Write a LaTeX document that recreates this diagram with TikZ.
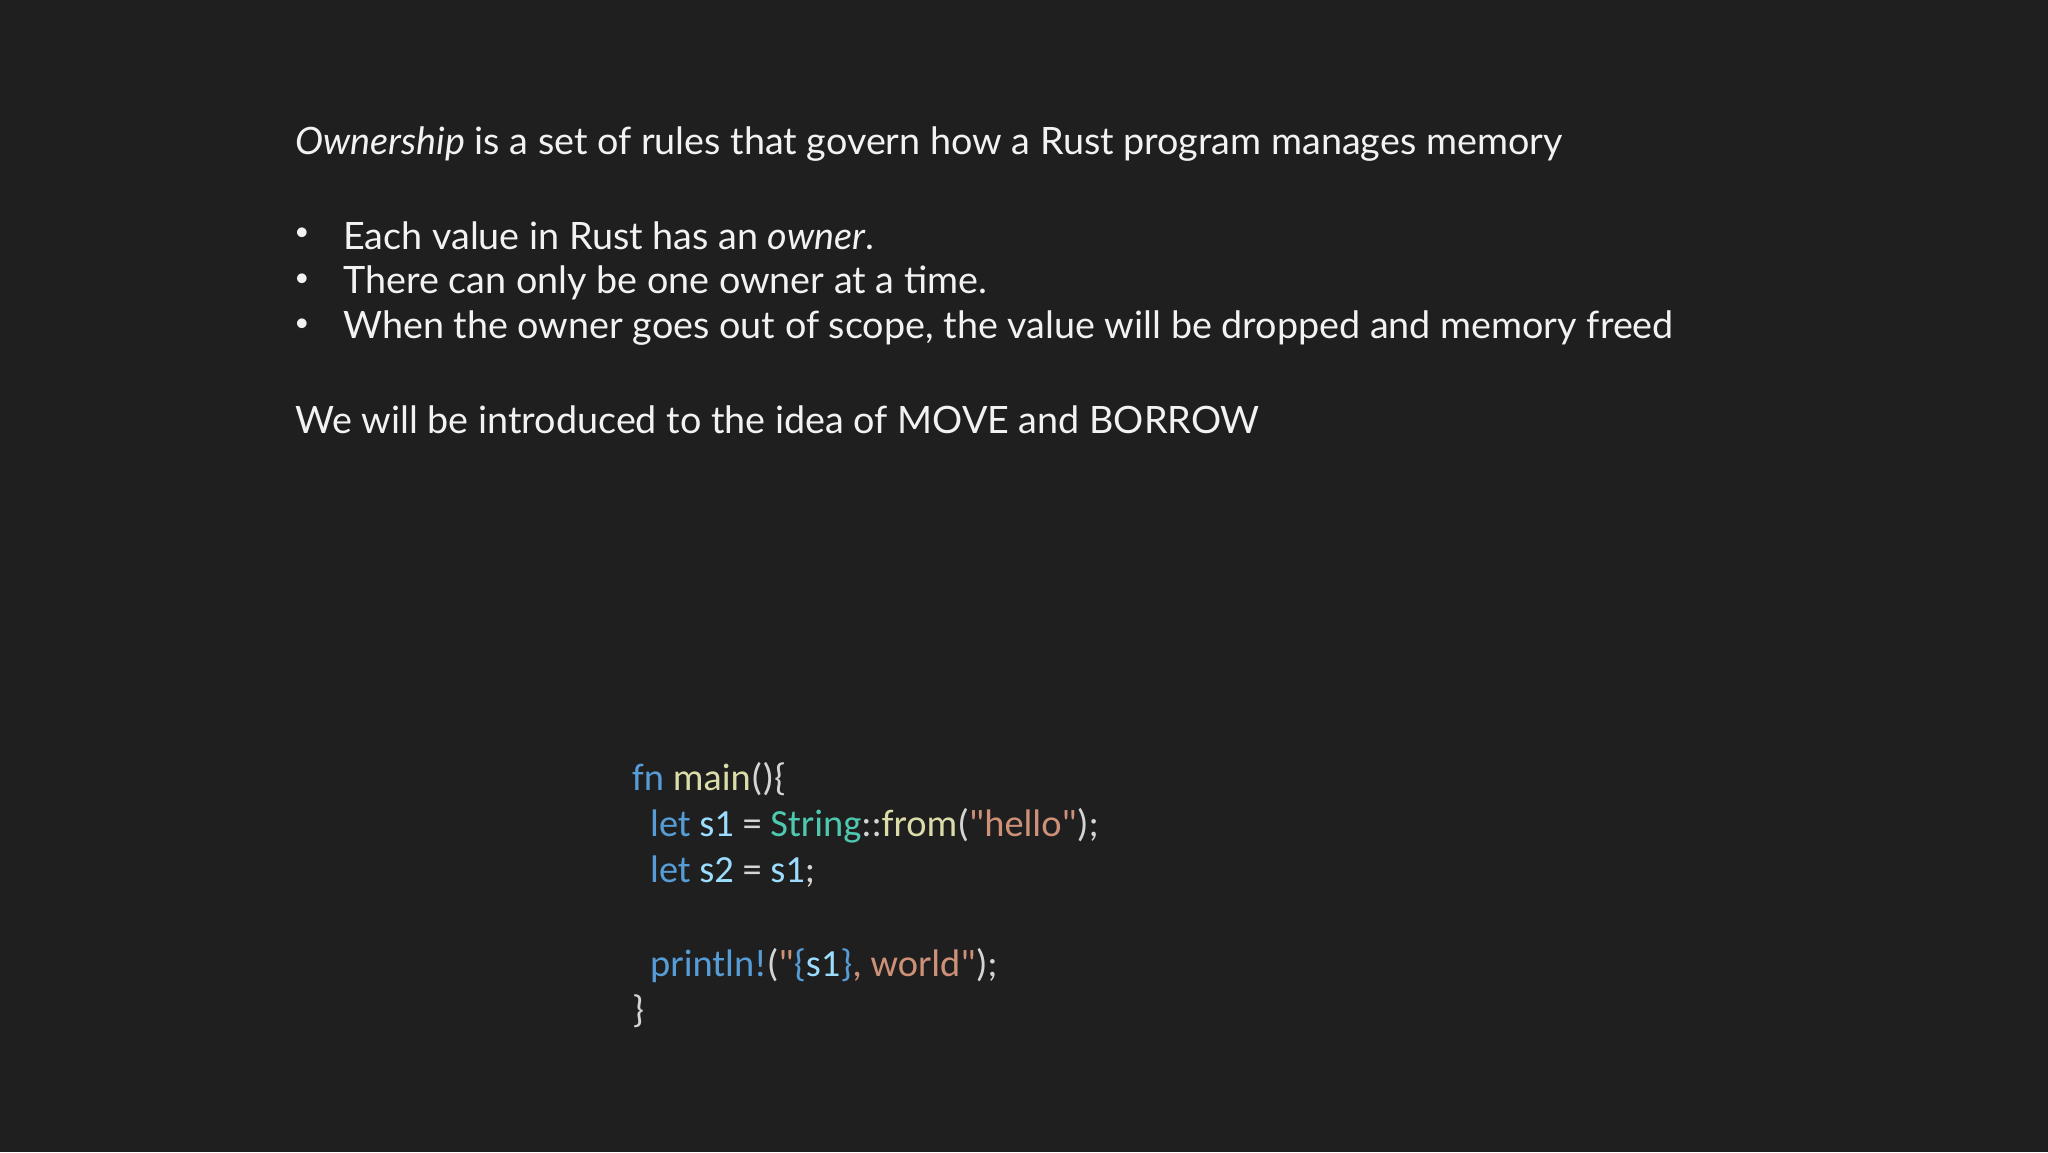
\documentclass[tikz,border=0pt]{standalone}
\usepackage{fontspec}
\setmainfont{Lato}
\newfontfamily\codefont{Carlito}
\definecolor{bg}{HTML}{1F1F1F}
\definecolor{fg}{HTML}{F2F2F2}
\definecolor{kw}{HTML}{569CD6}
\definecolor{fnc}{HTML}{DCDCAA}
\definecolor{var}{HTML}{9CDCFE}
\definecolor{typ}{HTML}{4EC9B0}
\definecolor{str}{HTML}{CE9178}
\definecolor{cd}{HTML}{D4D4D4}
\begin{document}
\begin{tikzpicture}[x=1pt,y=-1pt,
  txt/.style={anchor=west,text=fg,font=\fontsize{37.7}{42}\selectfont,inner sep=0pt},
  bul/.style={anchor=center,text=fg,font=\fontsize{26}{30}\selectfont,inner sep=0pt},
  code/.style={anchor=west,text=cd,font=\codefont\fontsize{38.4}{42}\selectfont,inner sep=0pt}]
\fill[bg] (0,0) rectangle (2048,1152);
\useasboundingbox (0,0) rectangle (2048,1152);
\node[txt] (t) at (295,144) {\textit{Ownership} is a set of rules that govern how a Rust program manages memory};
\node[bul] (b1) at (302,234) {\textbullet};
\node[txt] (l1) at (343,236) {Each value in Rust has an \textit{owner}.};
\node[bul] (b2) at (302,280) {\textbullet};
\node[txt] (l2) at (343,283) {There can only be one owner at a time.};
\node[bul] (b3) at (302,325) {\textbullet};
\node[txt] (l3) at (343,328) {When the owner goes out of scope, the value will be dropped and memory freed};
\node[txt] (w) at (295,420) {We will be introduced to the idea of MOVE and BORROW};
\node[code] (c1) at (632,779) {\textcolor{kw}{fn} \textcolor{fnc}{main}()\{};
\node[code] (c2) at (650,826) {\textcolor{kw}{let} \textcolor{var}{s1} = \textcolor{typ}{String}::\textcolor{fnc}{from}(\textcolor{str}{"hello"});};
\node[code] (c3) at (650,872) {\textcolor{kw}{let} \textcolor{var}{s2} = \textcolor{var}{s1};};
\node[code] (c4) at (650,966) {\textcolor{kw}{println!}(\textcolor{str}{"}\textcolor{kw}{\{}\textcolor{var}{s1}\textcolor{kw}{\}}\textcolor{str}{, world"});};
\node[code] (c5) at (632,1011) {\}};
\end{tikzpicture}
\end{document}
